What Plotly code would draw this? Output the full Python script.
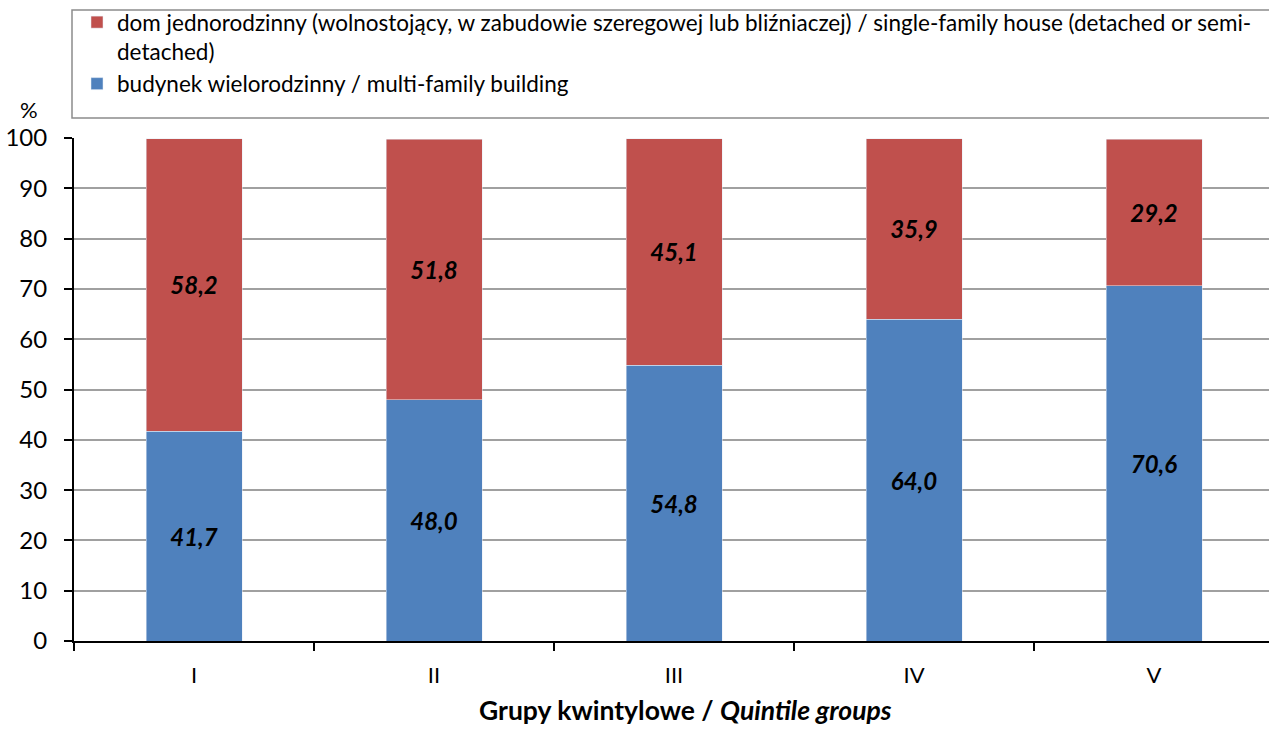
import plotly.graph_objects as go

# Quintile groups and housing shares (%)
groups = ["I", "II", "III", "IV", "V"]
multi_family = [41.7, 48.0, 54.8, 64.0, 70.6]
single_family = [58.2, 51.8, 45.1, 35.9, 29.2]

name_single = ("dom jednorodzinny (wolnostojący, w zabudowie szeregowej lub bliźniaczej) / "
               "single-family house (detached or semi-<br>detached)")
name_multi = "budynek wielorodzinny / multi-family building"

FONT = "Lato"
W, H = 1269, 742
L, R, T, B = 74, 0, 138, 101
pw, ph = W - L - R, H - T - B


def px_x(x):
    return (x - L) / pw


def px_y(y):
    return (H - B - y) / ph


label_font = dict(family=FONT, size=24, color="black", weight="bold", style="italic")

fig = go.Figure()
fig.add_bar(x=groups, y=multi_family, name=name_multi, marker_color="#4F81BD",
            width=0.4, texttemplate="%{y:.1f}", textposition="inside",
            insidetextanchor="middle", textfont=label_font, textangle=0)
fig.add_bar(x=groups, y=single_family, name=name_single, marker_color="#C0504D",
            width=0.4, texttemplate="%{y:.1f}", textposition="inside",
            insidetextanchor="middle", textfont=label_font, textangle=0)

# legend frame
fig.add_shape(type="rect", xref="paper", yref="paper",
              x0=px_x(72), x1=px_x(1280), y0=px_y(118), y1=px_y(10),
              line=dict(color="#8c8c8c", width=1.5), fillcolor="rgba(0,0,0,0)")

fig.add_annotation(text="%", xref="paper", yref="paper", x=px_x(29), y=px_y(110),
                   xanchor="center", yanchor="middle", showarrow=False,
                   font=dict(family=FONT, size=22, color="black"))
fig.add_annotation(text="<b>Grupy kwintylowe / <i>Quintile groups</i></b>",
                   xref="paper", yref="paper", x=px_x(685), y=px_y(710),
                   xanchor="center", yanchor="middle", showarrow=False,
                   font=dict(family=FONT, size=26.5, color="black"))

fig.update_layout(
    width=W, height=H,
    margin=dict(l=L, r=R, t=T, b=B, autoexpand=False),
    barmode="stack",
    separators=",.",
    plot_bgcolor="white", paper_bgcolor="white",
    font=dict(family=FONT, size=20, color="black"),
    showlegend=True,
    legend=dict(x=px_x(77), y=px_y(1), xanchor="left", yanchor="top",
                valign="top", bgcolor="rgba(0,0,0,0)", borderwidth=0,
                font=dict(family=FONT, size=22.5, color="black"),
                itemwidth=30, tracegroupgap=0),
    xaxis=dict(range=[-0.5, (W - L) / 240 - 0.5], showline=True, linecolor="black",
               linewidth=2, ticks="outside", tickson="boundaries", ticklen=8,
               tickcolor="black", tickwidth=1.5, showgrid=False, ticklabelstandoff=14,
               tickfont=dict(family=FONT, size=22)),
    yaxis=dict(range=[0, 100], dtick=10, showline=True, linecolor="black",
               linewidth=2, ticks="outside", ticklen=8, tickcolor="black",
               tickwidth=1.5, showgrid=True, gridcolor="#a0a0a0", gridwidth=1.5,
               zeroline=False, ticklabelstandoff=12, tickfont=dict(family=FONT, size=24)),
)

# drop the page's default body margin so the figure sits at the window corner
fig.write_html("out.html", config={"displayModeBar": False},
               post_script="document.body.style.margin = '0';")
